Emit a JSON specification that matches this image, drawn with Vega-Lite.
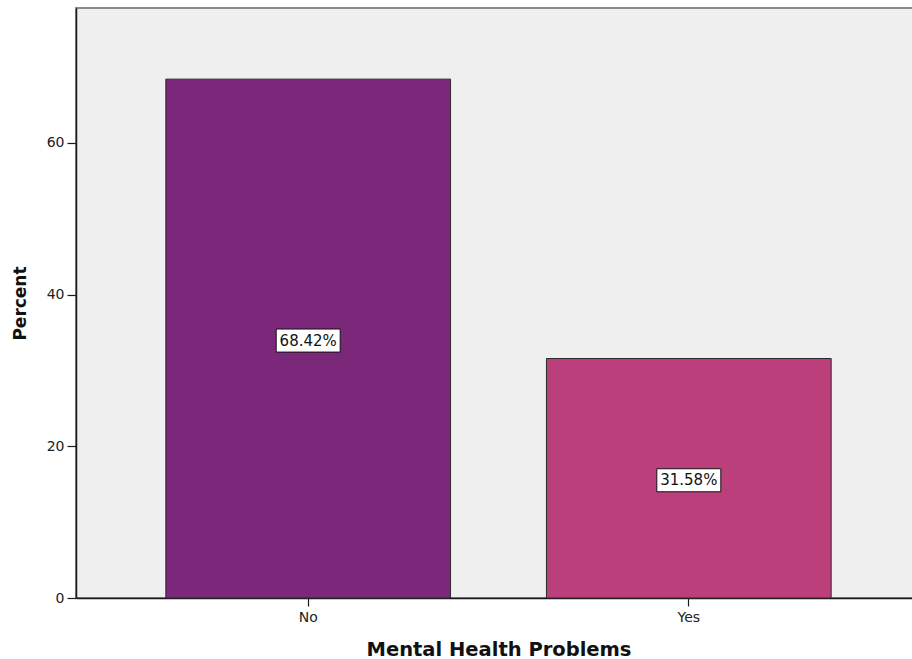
{
  "$schema": "https://vega.github.io/schema/vega-lite/v6.json",
  "width": 845,
  "height": 590,
  "autosize": {"type": "none"},
  "padding": {"left": 76, "top": 8, "right": 0, "bottom": 61},
  "background": "white",
  "config": {
    "view": {"fill": "#efefef", "stroke": "#8a8a8a", "strokeWidth": 2},
    "font": "DejaVu Sans",
    "axis": {
      "domainColor": "#1a1a1a",
      "domainWidth": 1.5,
      "tickColor": "#1a1a1a",
      "tickWidth": 1.2,
      "labelColor": "#222222",
      "labelFont": "DejaVu Sans",
      "labelFontSize": 14,
      "titleFont": "DejaVu Sans",
      "titleColor": "#111111",
      "titleFontWeight": "bold",
      "grid": false
    }
  },
  "data": {
    "values": [
      {"category": "No", "percent": 68.42, "label": "68.42%"},
      {"category": "Yes", "percent": 31.58, "label": "31.58%"}
    ]
  },
  "encoding": {
    "x": {
      "field": "category",
      "type": "nominal",
      "sort": ["No", "Yes"],
      "scale": {"paddingInner": 0.252, "paddingOuter": 0.236},
      "axis": {
        "title": "Mental Health Problems",
        "titleFontSize": 19.5,
        "titlePadding": 16,
        "labelAngle": 0,
        "tickSize": 8,
        "labelPadding": 4
      }
    }
  },
  "layer": [
    {
      "mark": {"type": "bar", "stroke": "#2a2a2a", "strokeWidth": 1},
      "encoding": {
        "y": {
          "field": "percent",
          "type": "quantitative",
          "scale": {"domain": [0, 77.8], "nice": false},
          "axis": {
            "title": "Percent",
            "titleFontSize": 17,
            "values": [0, 20, 40, 60],
            "tickSize": 9,
            "labelPadding": 3,
            "titlePadding": 17
          }
        },
        "color": {
          "field": "category",
          "type": "nominal",
          "scale": {"domain": ["No", "Yes"], "range": ["#7b287b", "#ba3f7b"]},
          "legend": null
        }
      }
    },
    {
      "transform": [{"calculate": "datum.percent / 2", "as": "mid"}],
      "mark": {
        "type": "point",
        "shape": "M-1,-0.36L1,-0.36L1,0.36L-1,0.36Z",
        "size": 4096,
        "filled": true,
        "fill": "white",
        "stroke": "#111111",
        "strokeWidth": 1,
        "opacity": 1,
        "yOffset": 2
      },
      "encoding": {
        "y": {"field": "mid", "type": "quantitative"}
      }
    },
    {
      "transform": [{"calculate": "datum.percent / 2", "as": "mid"}],
      "mark": {
        "type": "text",
        "font": "DejaVu Sans",
        "fontSize": 15,
        "color": "#111111",
        "align": "center",
        "baseline": "middle",
        "yOffset": 2
      },
      "encoding": {
        "y": {"field": "mid", "type": "quantitative"},
        "text": {"field": "label"}
      }
    }
  ]
}
